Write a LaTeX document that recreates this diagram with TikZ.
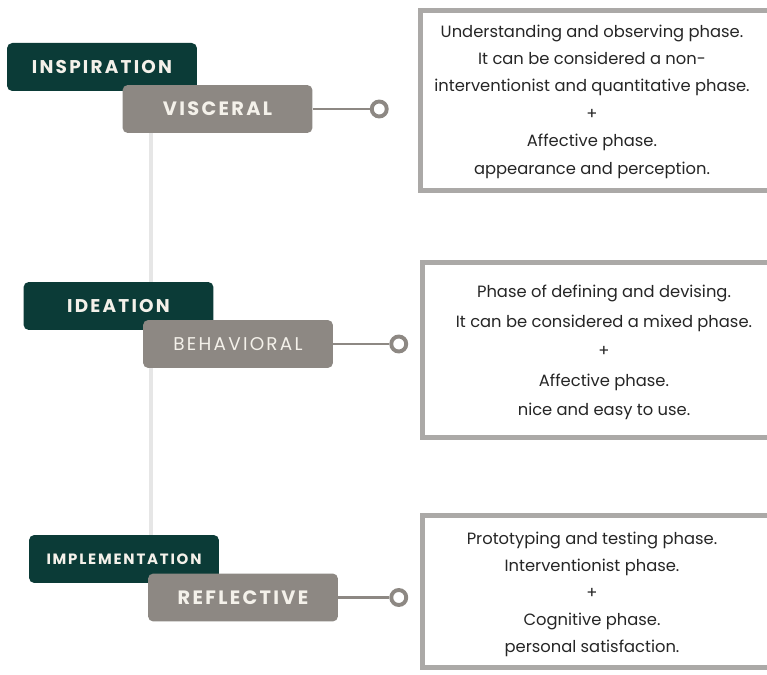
\documentclass[tikz,border=0pt]{standalone}
\usepackage{fontspec}
\setmainfont{Poppins}
\usetikzlibrary{positioning}
\definecolor{stagegreen}{HTML}{0B3B37}
\definecolor{levelgray}{HTML}{8D8883}
\definecolor{framegray}{HTML}{ABA9A7}
\definecolor{spinegray}{HTML}{E6E6E6}
\definecolor{labelwhite}{HTML}{F4F1EA}
\definecolor{bodytext}{HTML}{262626}
\tikzset{
  stage/.style={fill=stagegreen, rounded corners=3pt, minimum width=3.8cm, minimum height=0.96cm, inner sep=0pt, text=labelwhite},
  level/.style={fill=levelgray, rounded corners=3pt, minimum width=3.8cm, minimum height=0.96cm, inner sep=0pt, text=labelwhite},
  caps/.style={font=\fontsize{#1}{12}\selectfont\bfseries\addfontfeatures{LetterSpace=12}},
  thincaps/.style={font=\fontsize{#1}{12}\selectfont\addfontfeatures{LetterSpace=12}},
  dot/.style={draw=levelgray, line width=2.2pt, fill=white, circle, inner sep=0pt, minimum size=0.3cm},
  link/.style={draw=levelgray, line width=1.3pt},
  phase/.style={draw=framegray, line width=0.1cm, fill=white, inner sep=0pt},
  phasetext/.style={align=center, text=bodytext, inner sep=0pt, font=\fontsize{9.3}{#1}\selectfont}
}
\begin{document}
\begin{tikzpicture}[x=0.02cm, y=-0.02cm]
\useasboundingbox[fill=white] (0,0) rectangle (767,675);
% timeline spine behind the labels
\draw[spinegray, line width=0.08cm] (151,133) -- (151,535);

% inspiration / visceral
\node[stage, caps=10.5] (insp) at (102,67) {INSPIRATION};
\node[level, caps=11] (visc) at (217.5,109) {VISCERAL};
\node[dot, right=1.14cm of visc] (viscdot) {};
\draw[link] (visc.east) -- (viscdot.west);
\node[phase, minimum width=6.99cm, minimum height=3.6cm] (viscbox) at (595,100.5) {};
\node[phasetext=15.6] (visctext) at (592,101.5)
  {Understanding and observing phase.\\It can be considered a non-\\interventionist and quantitative phase.\\+\\Affective phase.\\appearance and perception.};

% ideation / behavioral
\node[stage, caps=10.5] (idea) at (118.5,306) {IDEATION};
\node[level, thincaps=10.5] (behav) at (238,344) {BEHAVIORAL};
\node[dot, right=1.12cm of behav] (behavdot) {};
\draw[link] (behav.east) -- (behavdot.west);
\node[phase, minimum width=6.95cm, minimum height=3.5cm] (behavbox) at (596,350) {};
\node[phasetext=16.8] (behavtext) at (604,352.5)
  {Phase of defining and devising.\\It can be considered a mixed phase.\\+\\Affective phase.\\nice and easy to use.};

% implementation / reflective
\node[stage, caps=8.5] (impl) at (124,559) {IMPLEMENTATION};
\node[level, caps=11] (refl) at (243,597.5) {REFLECTIVE};
\node[dot, right=1.02cm of refl] (refldot) {};
\draw[link] (refl.east) -- (refldot.west);
\node[phase, minimum width=6.95cm, minimum height=3.04cm] (reflbox) at (596,591.5) {};
\node[phasetext=15.3] (refltext) at (592,594.5)
  {Prototyping and testing phase.\\Interventionist phase.\\+\\Cognitive phase.\\personal satisfaction.};
\end{tikzpicture}
\end{document}
